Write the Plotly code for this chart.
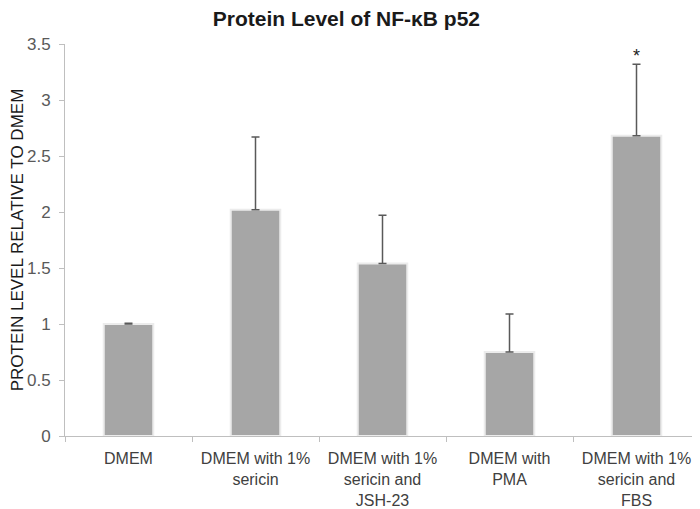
import plotly.graph_objects as go

categories = [
    "DMEM",
    "DMEM with 1%<br>sericin",
    "DMEM with 1%<br>sericin and<br>JSH-23",
    "DMEM with<br>PMA",
    "DMEM with 1%<br>sericin and<br>FBS",
]
protein_level = [1.0, 2.02, 1.54, 0.75, 2.68]
error_plus = [0.006, 0.65, 0.43, 0.34, 0.64]
y_ticks = [0, 0.5, 1, 1.5, 2, 2.5, 3, 3.5]
star_category = categories[4]
star_y = 3.39

FONT = "Liberation Sans, Arial, sans-serif"

# the page body adds an 8px margin, so the figure is sized to fit inside the window
fig = go.Figure()
fig.add_bar(
    x=categories, y=protein_level,
    marker=dict(color="#a6a6a6", line=dict(color="#ececec", width=2)),
    error_y=dict(type="data", array=error_plus, arrayminus=[0] * len(error_plus),
                 symmetric=False, color="#595959", thickness=1.5, width=4),
    width=0.39,
)

fig.add_annotation(x=star_category, y=star_y, text="*", showarrow=False,
                   font=dict(family=FONT, size=18, color="#222222"))

fig.update_layout(
    width=692, height=501,
    margin=dict(l=57, r=0, t=36, b=73),
    plot_bgcolor="white", paper_bgcolor="white",
    showlegend=False,
    title=dict(text="<b>Protein Level of NF-κB p52</b>", x=0.489, xanchor="center",
               y=0.993, yanchor="top", pad=dict(t=0, b=0),
               font=dict(family=FONT, size=21, color="#1a1a1a")),
    font=dict(family=FONT, size=17, color="#595959"),
)
fig.update_xaxes(
    type="category", showline=True, linecolor="#bfbfbf", linewidth=1,
    ticks="outside", tickson="boundaries", ticklen=5, tickcolor="#bfbfbf",
    tickfont=dict(family=FONT, size=16, color="#404040"),
    ticklabelstandoff=8, automargin=False,
    showgrid=False,
)
fig.update_yaxes(
    range=[0, 3.5], tickvals=y_ticks, ticktext=[f"{v:g}" for v in y_ticks],
    showline=True, linecolor="#bfbfbf", linewidth=1,
    ticks="outside", ticklen=5, tickcolor="#bfbfbf",
    tickfont=dict(family=FONT, size=17, color="#595959"),
    ticklabelstandoff=5, automargin=False,
    showgrid=False, zeroline=False,
    title=dict(text="PROTEIN LEVEL RELATIVE TO DMEM", standoff=0,
               font=dict(family=FONT, size=17, color="#1a1a1a")),
)

fig.write_html("out.html")
